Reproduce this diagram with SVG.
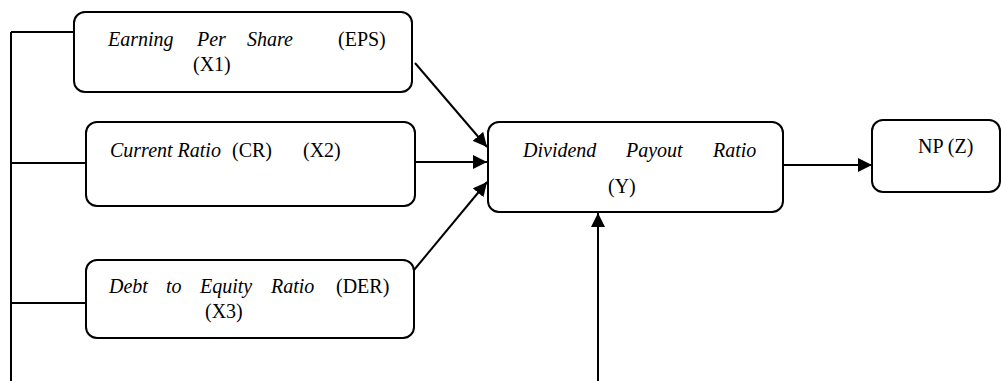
<svg xmlns="http://www.w3.org/2000/svg" width="1001" height="381" viewBox="0 0 1001 381">
<style>
.box{fill:#fff;stroke:#000;stroke-width:2}
.ln{fill:none;stroke:#000;stroke-width:2}
.t{font-family:'Liberation Serif','Times New Roman',Times,serif;font-size:20px;fill:#000}
.i{font-style:italic}
</style>
<defs>
<marker id="ah" markerUnits="userSpaceOnUse" markerWidth="15" markerHeight="14" refX="14" refY="7" orient="auto">
<path d="M0,0 L14,7 L0,14 z" fill="#000"/>
</marker>
</defs>
<rect width="1001" height="381" fill="#fff"/>
<g id="connectors">
<path class="ln" d="M11,32 L74,32 M11,32 L11,381 M11,163 L86,163 M11,303 L86,303"/>
<line class="ln" x1="415" y1="63" x2="487" y2="147" marker-end="url(#ah)"/>
<line class="ln" x1="415" y1="162" x2="487" y2="162" marker-end="url(#ah)"/>
<line class="ln" x1="414" y1="270" x2="487" y2="182" marker-end="url(#ah)"/>
<line class="ln" x1="783" y1="165" x2="872" y2="165" marker-end="url(#ah)"/>
<line class="ln" x1="598" y1="381" x2="598" y2="213" marker-end="url(#ah)"/>
</g>
<g id="eps" class="t">
<rect class="box" x="74" y="12" width="338" height="80" rx="11"/>
<text y="46"><tspan class="i" x="108">Earning</tspan><tspan class="i" x="197">Per</tspan><tspan class="i" x="247">Share</tspan><tspan x="338">(EPS)</tspan></text>
<text x="193" y="71">(X1)</text>
</g>
<g id="cr" class="t">
<rect class="box" x="86" y="122" width="329" height="84" rx="11"/>
<text y="157"><tspan class="i" x="110">Current Ratio</tspan><tspan x="232">(CR)</tspan><tspan x="303">(X2)</tspan></text>
</g>
<g id="der" class="t">
<rect class="box" x="86" y="260" width="328" height="78" rx="11"/>
<text y="293"><tspan class="i" x="109">Debt</tspan><tspan class="i" x="166">to</tspan><tspan class="i" x="200">Equity</tspan><tspan class="i" x="271">Ratio</tspan><tspan x="336">(DER)</tspan></text>
<text x="205" y="318">(X3)</text>
</g>
<g id="dpr" class="t">
<rect class="box" x="488" y="122" width="295" height="90" rx="11"/>
<text y="157"><tspan class="i" x="523">Dividend</tspan><tspan class="i" x="626">Payout</tspan><tspan class="i" x="713">Ratio</tspan></text>
<text x="608" y="193">(Y)</text>
</g>
<g id="np" class="t">
<rect class="box" x="872" y="120" width="128" height="72" rx="11"/>
<text x="918" y="153">NP (Z)</text>
</g>
</svg>
